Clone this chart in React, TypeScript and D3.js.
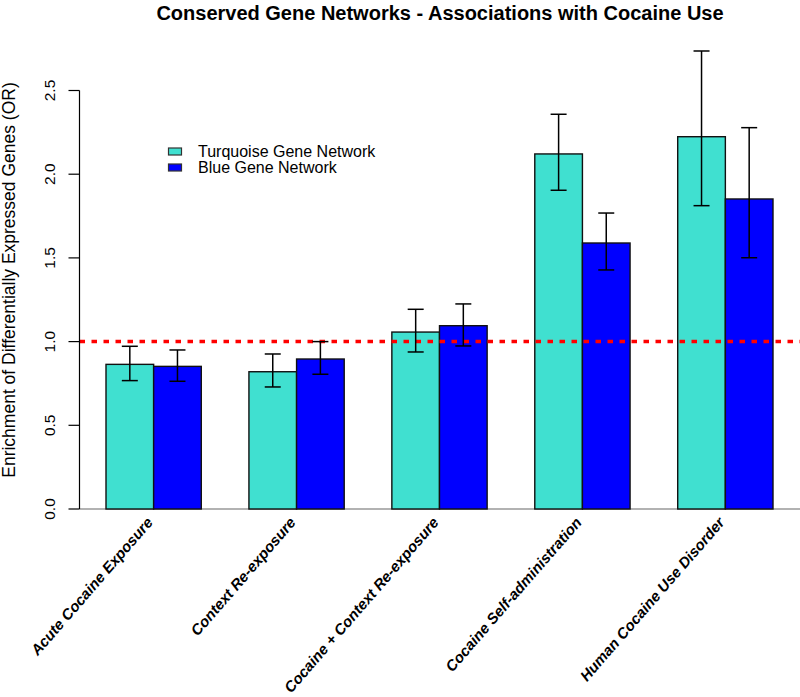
import React from "react";
import * as d3 from "d3";

const categories = [
  "Acute Cocaine Exposure",
  "Context Re-exposure",
  "Cocaine + Context Re-exposure",
  "Cocaine Self-administration",
  "Human Cocaine Use Disorder",
];
const seriesNames = ["Turquoise Gene Network", "Blue Gene Network"];
const turquoiseOR = [0.864, 0.82, 1.057, 2.121, 2.224];
const turquoiseLow = [0.767, 0.729, 0.938, 1.904, 1.812];
const turquoiseHigh = [0.972, 0.926, 1.193, 2.358, 2.736];
const blueOR = [0.852, 0.896, 1.095, 1.589, 1.852];
const blueLow = [0.763, 0.805, 0.974, 1.428, 1.501];
const blueHigh = [0.95, 1.0, 1.225, 1.768, 2.278];
const yTicks = [0, 0.5, 1.0, 1.5, 2.0, 2.5];
const refLine = 1.0;

const colors = ["#40E0D0", "#0000FF"];
const FONT = "'Liberation Sans', Arial, Helvetica, sans-serif";

export default function App() {
  const W = 800;
  const H = 697;
  const axisX = 79.5;
  const y = d3.scaleLinear().domain([0, 2.5]).range([509, 90.5]);
  const x0 = d3
    .scaleBand<string>()
    .domain(categories)
    .range([106, 773])
    .paddingInner(1 / 3)
    .paddingOuter(0);
  const x1 = d3
    .scaleBand<string>()
    .domain(seriesNames)
    .range([0, x0.bandwidth()])
    .padding(0);

  const series = [
    { name: seriesNames[0], vals: turquoiseOR, lo: turquoiseLow, hi: turquoiseHigh, color: colors[0] },
    { name: seriesNames[1], vals: blueOR, lo: blueLow, hi: blueHigh, color: colors[1] },
  ];
  const cap = 8;

  return (
    <svg
      width={W}
      height={H}
      style={{ position: "absolute", left: 0, top: 0, background: "#fff" }}
      fontFamily={FONT}
    >
      {/* title */}
      <text x={440} y={20} textAnchor="middle" fontWeight="bold" fontSize={20} fill="#000">
        Conserved Gene Networks - Associations with Cocaine Use
      </text>

      {/* baseline */}
      <line x1={axisX} x2={W} y1={y(0)} y2={y(0)} stroke="#999" strokeWidth={1.5} />

      {/* bars */}
      {categories.map((c, i) => (
        <g key={c}>
          {series.map((s) => {
            const bx = (x0(c) as number) + (x1(s.name) as number);
            return (
              <rect
                key={s.name}
                x={bx}
                y={y(s.vals[i])}
                width={x1.bandwidth()}
                height={y(0) - y(s.vals[i])}
                fill={s.color}
                stroke="#111"
                strokeWidth={1.4}
              />
            );
          })}
        </g>
      ))}

      {/* reference line */}
      <line
        x1={axisX}
        x2={W}
        y1={y(refLine)}
        y2={y(refLine)}
        stroke="#FF0000"
        strokeWidth={3.5}
        strokeDasharray="5.5 6.5"
      />

      {/* error bars */}
      {categories.map((c, i) => (
        <g key={"e" + c}>
          {series.map((s) => {
            const cx = (x0(c) as number) + (x1(s.name) as number) + x1.bandwidth() / 2;
            return (
              <g key={s.name} stroke="#000" strokeWidth={1.5}>
                <line x1={cx} x2={cx} y1={y(s.lo[i])} y2={y(s.hi[i])} />
                <line x1={cx - cap} x2={cx + cap} y1={y(s.lo[i])} y2={y(s.lo[i])} />
                <line x1={cx - cap} x2={cx + cap} y1={y(s.hi[i])} y2={y(s.hi[i])} />
              </g>
            );
          })}
        </g>
      ))}

      {/* y axis */}
      <line x1={axisX} x2={axisX} y1={y(0)} y2={y(2.5)} stroke="#000" strokeWidth={1.2} />
      {yTicks.map((t) => (
        <g key={t}>
          <line x1={axisX - 11} x2={axisX} y1={y(t)} y2={y(t)} stroke="#000" strokeWidth={1.2} />
          <text
            transform={`translate(55,${y(t)}) rotate(-90)`}
            textAnchor="middle"
            fontSize={15.5}
            fill="#000"
          >
            {d3.format(".1f")(t)}
          </text>
        </g>
      ))}
      <text
        transform={`translate(15,280) rotate(-90)`}
        textAnchor="middle"
        fontSize={17.5}
        fill="#000"
      >
        Enrichment of Differentially Expressed Genes (OR)
      </text>

      {/* x labels */}
      {categories.map((c) => {
        const cx = (x0(c) as number) + x0.bandwidth() / 2;
        return (
          <text
            key={"l" + c}
            transform={`translate(${cx},${523}) rotate(-49)`}
            textAnchor="end"
            fontSize={15}
            fontWeight="bold"
            fontStyle="italic"
            fill="#000"
          >
            {c}
          </text>
        );
      })}

      {/* legend */}
      {series.map((s, i) => (
        <g key={"lg" + s.name}>
          <rect x={168.5} y={148 + i * 16} width={13} height={7} fill={s.color} stroke="#333" strokeWidth={1.2} />
          <text x={198} y={157 + i * 16} fontSize={16} fill="#000">
            {s.name}
          </text>
        </g>
      ))}
    </svg>
  );
}
